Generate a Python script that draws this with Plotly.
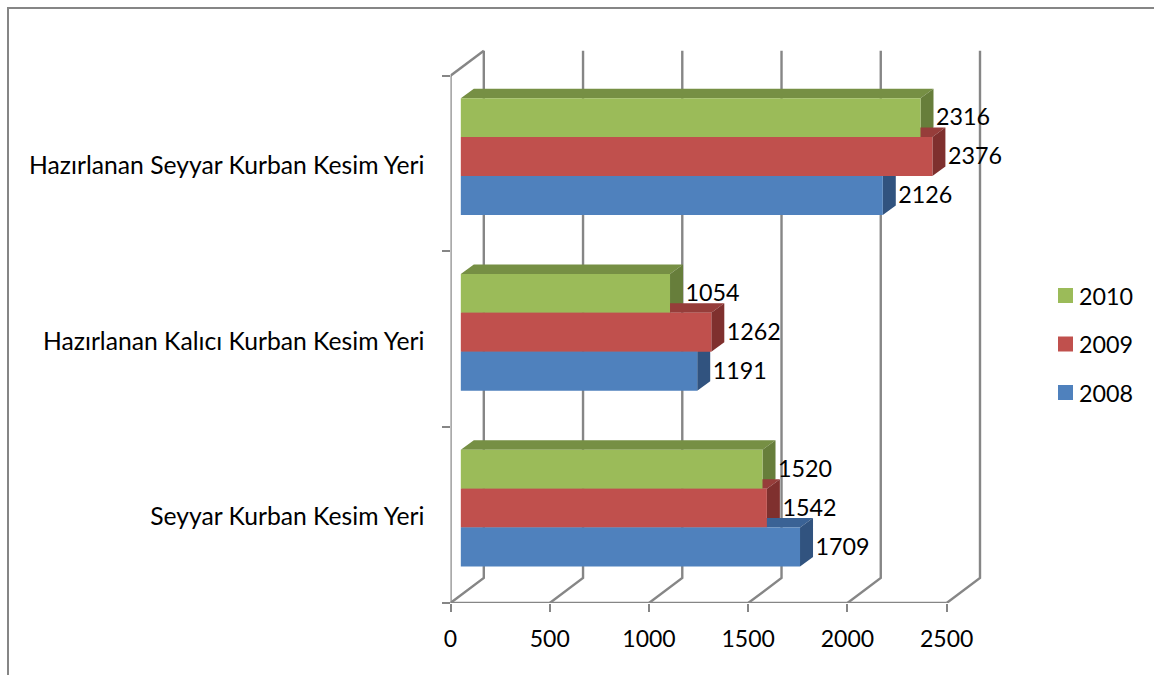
import plotly.graph_objects as go

categories = ["Seyyar Kurban Kesim Yeri", "Hazırlanan Kalıcı Kurban Kesim Yeri", "Hazırlanan Seyyar Kurban Kesim Yeri"]
years = ["2008", "2009", "2010"]
values_2008 = [1709, 1191, 2126]
values_2009 = [1542, 1262, 2376]
values_2010 = [1520, 1054, 2316]
x_ticks = [0, 500, 1000, 1500, 2000, 2500]
front_colors = ["#4F81BD", "#C0504D", "#9BBB59"]
top_colors = ["#3A6295", "#963D3A", "#768F44"]
side_colors = ["#31537F", "#7F302E", "#677E3B"]

W, H = 1154, 675
FONT = "Lato"
AXIS = "#868686"
series = [values_2008, values_2009, values_2010]

# pixel frame of the front plane
PX0, PX1, PY0, PY1 = 450.5, 1030.0, 603.0, 40.0
SX = (946.7 - 450.5) / 2500          # px per value
SY = (603.0 - 75.7) / 3              # px per category
xmax = (PX1 - PX0) / SX
ymax = (PY0 - PY1) / SY
wall_dx, wall_dy = 33.3 / SX, 25.0 / SY
bar_dx, bar_dy = 13.0 / SX, 9.5 / SY
bar_base = 52
bar_h = 38.9 / SY
group_c = 0.54
label_dx, label_dy = 2.5 / SX, -2.0 / SY
cat_label_dy = -1.5 / SY
n_cat = len(categories)
cat_pos = [i + 0.5 + cat_label_dy for i in range(n_cat)]

fig = go.Figure()

def line(xs, ys, width=2.4):
    fig.add_trace(go.Scatter(x=xs, y=ys, mode="lines", showlegend=False, hoverinfo="skip",
                             line=dict(color=AXIS, width=width), xaxis="x", yaxis="y"))

# wall lines
for t in x_ticks:
    line([t, t + wall_dx, t + wall_dx], [0, wall_dy, n_cat + wall_dy])
line([0, wall_dx], [n_cat, n_cat + wall_dy])
line([0, 0], [0, n_cat])
line([0, x_ticks[-1]], [0, 0])

# depth faces, back series first
def centre(s, c):
    return c + group_c + (s - 1) * bar_h

for s in [2, 1, 0]:
    tx, ty, sx, sy = [], [], [], []
    for c, v in enumerate(series[s]):
        end = bar_base + v
        lo = centre(s, c) - bar_h / 2
        hi = centre(s, c) + bar_h / 2
        tx += [bar_base, bar_base + bar_dx, end + bar_dx, end, None]
        ty += [hi, hi + bar_dy, hi + bar_dy, hi, None]
        sx += [end, end + bar_dx, end + bar_dx, end, None]
        sy += [lo, lo + bar_dy, hi + bar_dy, hi, None]
    for px, py, col in ((tx, ty, top_colors[s]), (sx, sy, side_colors[s])):
        fig.add_trace(go.Scatter(x=px, y=py, mode="none", fill="toself", fillcolor=col,
                                 showlegend=False, hoverinfo="skip", xaxis="x", yaxis="y"))

# front faces and labels, on an overlay so they cover the depth faces
for s in [2, 1, 0]:
    fig.add_trace(go.Bar(x=series[s], y=[centre(s, c) for c in range(n_cat)], base=bar_base,
                         orientation="h", width=bar_h, name=years[s], showlegend=False,
                         marker=dict(color=front_colors[s], line=dict(width=0)),
                         xaxis="x2", yaxis="y2"))
for s in [2, 1, 0]:
    fig.add_trace(go.Scatter(x=[bar_base + v + bar_dx + label_dx for v in series[s]],
                             y=[centre(s, c) + label_dy for c in range(n_cat)],
                             text=[str(v) for v in series[s]], mode="text", cliponaxis=False,
                             textposition="middle right", showlegend=False, hoverinfo="skip",
                             textfont=dict(family=FONT, size=23.3, color="#000000"),
                             xaxis="x2", yaxis="y2"))

shapes = [
    dict(type="line", xref="paper", yref="paper", x0=7 / W, x1=1, y0=1 - 8 / H, y1=1 - 8 / H,
         line=dict(color=AXIS, width=2)),
    dict(type="line", xref="paper", yref="paper", x0=8 / W, x1=8 / W, y0=0, y1=1 - 7 / H,
         line=dict(color=AXIS, width=2)),
]
annotations = []
for i, s in enumerate([2, 1, 0]):
    top = 288 + i * 48.5
    shapes.append(dict(type="rect", xref="paper", yref="paper", x0=1058 / W, x1=1073 / W,
                       y0=1 - (top + 15) / H, y1=1 - top / H, line=dict(width=0),
                       fillcolor=front_colors[s]))
    annotations.append(dict(xref="paper", yref="paper", x=1077 / W, y=1 - (top + 7.5) / H,
                            text=years[s], showarrow=False, xanchor="left", yanchor="middle",
                            font=dict(family=FONT, size=23.3, color="#000000")))

dom_x = [PX0 / W, PX1 / W]
dom_y = [1 - PY0 / H, 1 - PY1 / H]
fig.update_layout(
    width=W, height=H, margin=dict(l=0, r=0, t=0, b=0, pad=0),
    paper_bgcolor="#FFFFFF", plot_bgcolor="rgba(0,0,0,0)", barmode="overlay",
    showlegend=False, shapes=shapes, annotations=annotations,
    xaxis=dict(domain=dom_x, range=[0, xmax], tickmode="array", tickvals=x_ticks,
               ticks="outside", ticklen=8, tickwidth=2, tickcolor=AXIS, showgrid=False,
               zeroline=False, showline=False, ticklabelstandoff=7, automargin=False,
               tickfont=dict(family=FONT, size=23, color="#000000"), anchor="y"),
    yaxis=dict(domain=dom_y, range=[0, ymax], tickmode="array", tickvals=cat_pos, ticktext=categories,
               ticks="", showgrid=False, zeroline=False, showline=False, ticklabelstandoff=25,
               automargin=False,
               minor=dict(tickmode="array", tickvals=list(range(n_cat + 1)), ticks="outside",
                          ticklen=8, tickwidth=2, tickcolor=AXIS, showgrid=False),
               tickfont=dict(family=FONT, size=24.7, color="#000000"), anchor="x"),
    xaxis2=dict(overlaying="x", range=[0, xmax], visible=False, anchor="y2", automargin=False),
    yaxis2=dict(overlaying="y", range=[0, ymax], visible=False, anchor="x2", automargin=False),
)
fig.write_html("out.html", post_script="document.body.style.margin='0';document.body.style.overflow='hidden';",
               config={"displayModeBar": False})
